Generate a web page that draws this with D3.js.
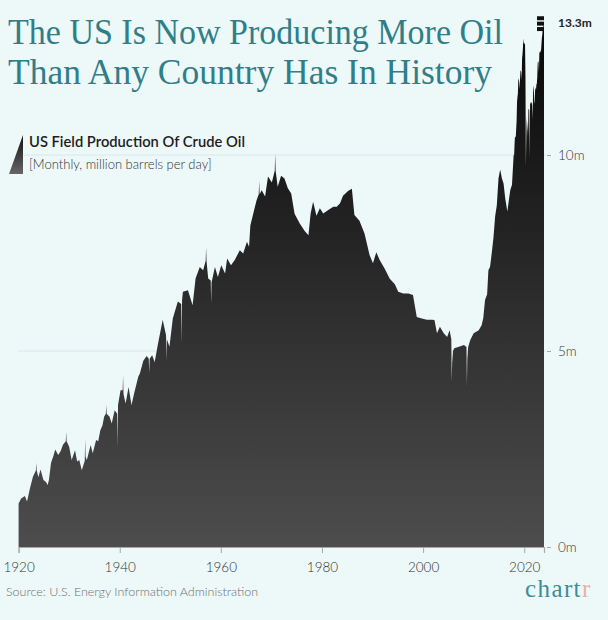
<!DOCTYPE html>
<html><head><meta charset="utf-8">
<script src="https://cdn.jsdelivr.net/npm/d3@7"></script>
<style>
html,body{margin:0;padding:0;background:#edf8f9;}
svg{display:block}
</style></head>
<body>
<svg id="chart" width="608" height="620"></svg>
<script>
// ---------- DATA ----------
const titleLines = ["The US Is Now Producing More Oil", "Than Any Country Has In History"];
const legendTitle = "US Field Production Of Crude Oil";
const legendSubtitle = "[Monthly, million barrels per day]";
const sourceText = "Source: U.S. Energy Information Administration";
const peakLabel = "13.3m";
const xTickYears = [1920, 1940, 1960, 1980, 2000, 2020];
const yTickValues = [0, 5, 10];
const yTickLabels = ["0m", "5m", "10m"];

const months = [
"1920-01","1920-07","1921-04","1921-09","1922-04","1922-11","1923-06","1923-07","1923-08","1923-12",
"1924-05","1924-12","1925-06","1925-10","1926-01","1926-06","1926-11","1927-04","1927-11","1928-05",
"1928-10","1929-05","1929-06","1929-07","1930-01","1930-07","1931-03","1931-08","1932-01","1932-07",
"1933-02","1933-03","1933-04","1933-07","1934-04","1934-09","1935-05","1935-10","1936-03","1936-08",
"1936-12","1937-04","1937-05","1937-06","1938-01","1938-06","1939-01","1939-07","1939-08","1939-09",
"1940-03","1940-08","1940-09","1940-10","1941-03","1941-10","1942-05","1942-11","1943-09","1944-01",
"1944-09","1945-05","1945-10","1945-11","1945-12","1946-06","1946-12","1947-08","1948-07","1949-03",
"1949-04","1949-05","1949-11","1950-07","1951-07","1952-03","1952-04","1952-05","1952-07","1953-07",
"1954-06","1955-01","1955-11","1956-07","1957-01","1957-02","1957-03","1957-07","1958-01","1958-02",
"1958-03","1958-11","1959-06","1960-02","1960-11","1961-04","1962-01","1962-10","1963-10","1964-06",
"1965-03","1965-08","1965-11","1966-06","1967-02","1967-07","1967-08","1967-09","1968-02","1968-10",
"1969-05","1970-02","1970-09","1970-10","1970-11","1971-04","1971-12","1972-08","1973-04","1973-12",
"1974-08","1975-08","1976-08","1977-05","1977-10","1978-04","1978-12","1979-08","1980-04","1981-04",
"1982-04","1982-12","1983-08","1984-03","1985-03","1985-12","1986-06","1987-06","1988-06","1989-06",
"1990-02","1990-10","1991-06","1992-06","1993-06","1994-06","1995-02","1996-02","1997-02","1998-01",
"1998-10","1999-10","2000-10","2001-10","2002-04","2002-10","2003-05","2004-02","2004-10","2005-04",
"2005-08","2005-09","2005-10","2005-12","2006-03","2007-02","2008-02","2008-08","2008-09","2008-10",
"2008-12","2009-05","2010-01","2011-01","2011-08","2011-12","2012-04","2012-09","2012-12","2013-04",
"2013-08","2013-12","2014-04","2014-08","2014-12","2015-04","2015-08","2015-12","2016-04","2016-09",
"2016-12","2017-04","2017-08","2017-12",
"2018-01","2018-02","2018-03","2018-04","2018-05","2018-06","2018-07","2018-08","2018-09","2018-10","2018-11","2018-12",
"2019-01","2019-02","2019-03","2019-04","2019-05","2019-06","2019-07","2019-08","2019-09","2019-10","2019-11","2019-12",
"2020-01","2020-02","2020-03","2020-04","2020-05","2020-06","2020-07","2020-08","2020-09","2020-10","2020-11","2020-12",
"2021-01","2021-02","2021-03","2021-04","2021-05","2021-06","2021-07","2021-08","2021-09","2021-10","2021-11","2021-12",
"2022-01","2022-02","2022-03","2022-04","2022-05","2022-06","2022-07","2022-08","2022-09","2022-10","2022-11","2022-12",
"2023-01","2023-02","2023-03","2023-04","2023-05","2023-06","2023-07","2023-08","2023-09","2023-10","2023-11","2023-12"
];

// Million barrels per day
const production = [
1.11,1.24,1.30,1.16,1.50,1.79,1.95,2.15,1.95,1.78,
1.98,1.71,1.66,1.58,1.71,2.15,2.30,2.49,2.35,2.45,
2.60,2.70,2.94,2.70,2.56,2.22,2.47,2.18,2.22,1.96,
2.20,2.77,2.30,2.22,2.60,2.39,2.73,2.70,2.98,3.10,
3.32,3.40,3.62,3.40,3.32,3.15,3.49,3.40,2.56,3.62,
4.00,4.00,4.38,3.90,3.66,4.08,3.62,3.91,4.34,4.43,
4.75,4.87,4.80,4.43,4.80,4.89,4.72,5.19,5.80,5.40,
4.75,5.30,5.11,5.83,6.26,6.20,5.19,6.30,6.51,6.55,
6.17,6.85,7.14,7.06,7.30,7.64,7.30,6.85,6.80,6.21,
6.75,7.14,6.89,7.19,6.98,7.36,7.19,7.32,7.57,7.49,
7.79,7.66,8.20,8.51,8.85,9.00,9.34,9.00,9.10,8.94,
9.45,9.30,9.60,10.03,9.60,9.19,9.47,9.40,9.15,9.02,
8.50,8.26,8.06,7.95,8.50,8.81,8.45,8.64,8.51,8.60,
8.68,8.68,8.77,8.96,9.08,9.14,8.47,8.32,8.00,7.45,
7.24,7.52,7.32,7.10,6.84,6.70,6.51,6.47,6.47,6.43,
5.87,5.83,5.80,5.80,5.79,5.45,5.62,5.45,5.36,5.53,
5.30,4.22,4.70,5.00,5.07,5.11,5.15,5.10,4.13,4.80,
5.10,5.28,5.45,5.53,5.66,5.85,6.30,6.45,7.06,7.15,
7.50,7.89,8.43,8.72,9.40,9.63,9.41,9.27,8.89,8.56,
8.80,9.11,9.24,10.01,
9.98,10.26,10.46,10.47,10.44,10.67,10.87,11.35,11.48,11.56,11.91,11.96,
11.86,11.68,11.91,12.13,12.16,12.10,11.91,12.47,12.57,12.73,12.97,12.86,
12.85,12.84,12.82,12.00,9.71,10.44,10.99,10.59,10.88,10.44,11.18,11.17,
11.13,9.92,11.35,11.29,11.36,11.31,11.36,11.26,10.90,11.56,11.78,11.67,
11.37,11.31,11.73,11.69,11.66,11.80,11.82,11.99,12.34,12.39,12.37,12.11,
12.61,12.62,12.68,12.61,12.66,12.83,12.99,13.06,13.24,13.24,13.31,13.31
];

// ---------- CHART ----------
const parse = d3.timeParse("%Y-%m");
const data = months.map((m, i) => ({date: parse(m), value: production[i]}));

const svg = d3.select("#chart");
const bg = "#edf8f9";
svg.append("rect").attr("width", 608).attr("height", 620).attr("fill", bg);

const x = d3.scaleTime()
  .domain([data[0].date, data[data.length - 1].date])
  .range([18.6, 544]);
const y = d3.scaleLinear().domain([0, 10]).range([547, 155]);

const maxPoint = data.reduce((a, b) => (b.value >= a.value ? b : a));

const defs = svg.append("defs");
const grad = defs.append("linearGradient").attr("id", "areaGrad")
  .attr("gradientUnits", "userSpaceOnUse")
  .attr("x1", 0).attr("x2", 0).attr("y1", y(maxPoint.value)).attr("y2", y(0));
grad.append("stop").attr("offset", "0%").attr("stop-color", "#080808");
grad.append("stop").attr("offset", "100%").attr("stop-color", "#4d4d4d");

const legGrad = defs.append("linearGradient").attr("id", "legGrad")
  .attr("x1", 0).attr("x2", 0).attr("y1", 0).attr("y2", 1);
legGrad.append("stop").attr("offset", "0%").attr("stop-color", "#111");
legGrad.append("stop").attr("offset", "100%").attr("stop-color", "#666");

// gridlines
svg.append("g").selectAll("line")
  .data(yTickValues.filter(v => v > 0))
  .join("line")
  .attr("x1", 18).attr("x2", 546)
  .attr("y1", d => y(d)).attr("y2", d => y(d))
  .attr("stroke", "#d9e7e9").attr("stroke-width", 1);

// area
const area = d3.area()
  .x(d => x(d.date))
  .y0(y(0))
  .y1(d => y(d.value))
  .curve(d3.curveLinear);
svg.append("path").datum(data)
  .attr("d", area)
  .attr("fill", "url(#areaGrad)");

// x axis
const xAxis = d3.axisBottom(x)
  .tickValues(xTickYears.map(yr => new Date(yr, 0, 1)))
  .tickFormat(d3.timeFormat("%Y"))
  .tickSize(6).tickPadding(9);
const gx = svg.append("g").attr("transform", `translate(0,${y(0)})`).call(xAxis);
gx.select(".domain").attr("stroke", "#a8a8a8").attr("stroke-width", 1.2);
gx.selectAll(".tick line").attr("stroke", "#a8a8a8");
gx.selectAll(".tick text")
  .attr("fill", "#333").attr("font-size", 13.5)
  .attr("font-family", "Lato, 'Open Sans', sans-serif").attr("font-weight", 300);

// y axis (right)
const yAxis = d3.axisRight(y)
  .tickValues(yTickValues)
  .tickFormat((d, i) => yTickLabels[i])
  .tickSize(4).tickPadding(7);
const gy = svg.append("g").attr("transform", `translate(547,0)`).call(yAxis);
gy.select(".domain").remove();
gy.selectAll(".tick line").attr("stroke", "#a8a8a8");
gy.selectAll(".tick text")
  .attr("fill", "#333").attr("font-size", 13.5)
  .attr("font-family", "Lato, 'Open Sans', sans-serif").attr("font-weight", 300);

// peak marker icon + label
const iconX = x(maxPoint.date) - 3.5;
const iconY = y(maxPoint.value) - 9;
const icon = svg.append("g");
[0, 1, 2].forEach(i => {
  icon.append("rect")
    .attr("x", iconX - 3.5).attr("y", iconY + i * 5.4)
    .attr("width", 7).attr("height", 4)
    .attr("fill", "#111");
});
svg.append("text")
  .attr("x", 558).attr("y", iconY + 11)
  .attr("font-family", "Lato, sans-serif").attr("font-size", 12)
  .attr("font-weight", 700).attr("fill", "#222")
  .text(peakLabel);

// title
svg.append("g").selectAll("text")
  .data(titleLines)
  .join("text")
  .attr("x", 8)
  .attr("y", (d, i) => 44 + i * 40)
  .attr("font-family", "'Liberation Serif', 'DejaVu Serif', serif")
  .attr("font-size", 35)
  .attr("fill", "#2f7e88")
  .attr("textLength", (d, i) => i === 0 ? 495 : 484)
  .attr("lengthAdjust", "spacingAndGlyphs")
  .text(d => d);

// legend
svg.append("path")
  .attr("d", "M23,135 L23,174 L9,174 Z")
  .attr("fill", "url(#legGrad)");
svg.append("text")
  .attr("x", 29).attr("y", 147)
  .attr("font-family", "Lato, sans-serif").attr("font-size", 15)
  .attr("font-weight", 600).attr("fill", "#1e1e1e")
  .attr("textLength", 216).attr("lengthAdjust", "spacingAndGlyphs")
  .text(legendTitle);
svg.append("text")
  .attr("x", 29).attr("y", 169)
  .attr("font-family", "Lato, sans-serif").attr("font-size", 13)
  .attr("font-weight", 300).attr("fill", "#333")
  .text(legendSubtitle);

// source
svg.append("text")
  .attr("x", 6).attr("y", 596)
  .attr("font-family", "Lato, sans-serif").attr("font-size", 12.5)
  .attr("font-weight", 300).attr("fill", "#6f6f6f")
  .text(sourceText);

// logo
const logo = svg.append("text")
  .attr("x", 525).attr("y", 597)
  .attr("font-family", "'Liberation Serif', serif").attr("font-size", 25)
  .attr("letter-spacing", 1.4)
  .attr("fill", "#3e8d96");
logo.append("tspan").text("chart");
logo.append("tspan").attr("fill", "#eeb196").text("r");
</script>
</body></html>
